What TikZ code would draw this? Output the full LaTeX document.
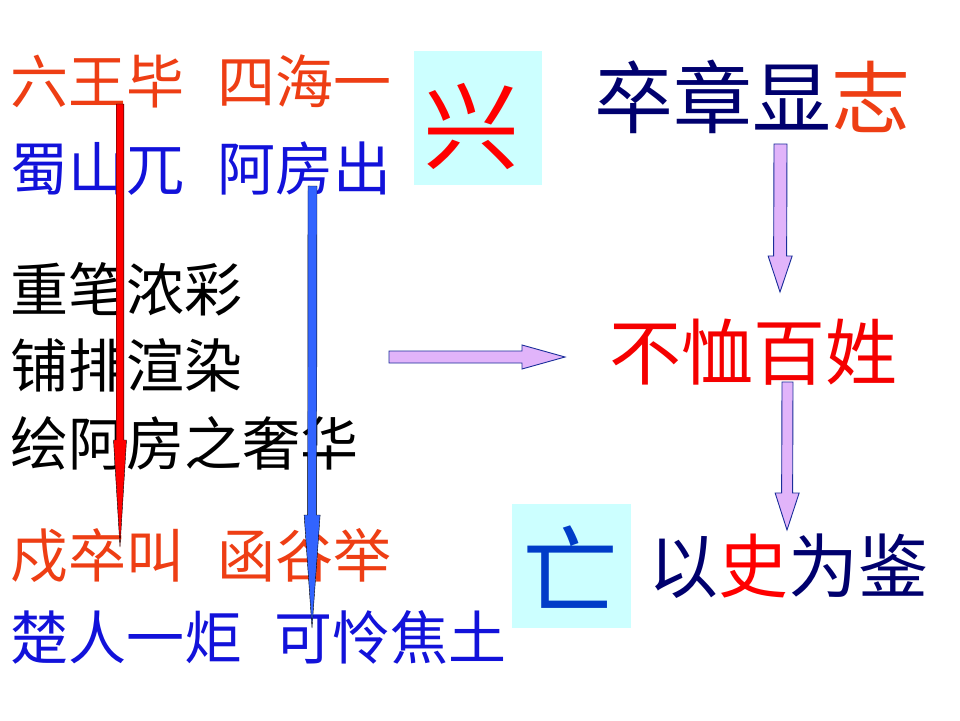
\documentclass[tikz,border=0pt]{standalone}
\usepackage{fontspec}
\setmainfont{Noto Sans CJK SC}
\usetikzlibrary{calc, positioning}

\definecolor{hongse}{RGB}{238,62,20}
\definecolor{chihong}{RGB}{245,0,0}
\definecolor{lanse}{RGB}{18,18,218}
\definecolor{shenlan}{RGB}{0,0,110}
\definecolor{wanglan}{RGB}{0,60,200}
\definecolor{qing}{RGB}{204,255,255}
\definecolor{zise}{RGB}{225,180,250}
\definecolor{biankuang}{RGB}{26,46,154}
\definecolor{lanjian}{RGB}{50,100,255}

\tikzstyle{line} = [inner sep=0pt, outer sep=0pt, anchor=base west, font=\fontsize{58}{60}\selectfont]
\tikzstyle{title} = [inner sep=0pt, outer sep=0pt, anchor=base]
\tikzstyle{cyanbox} = [rectangle, fill=qing, inner sep=0pt]
\tikzstyle{fat} = [fill=zise, draw=biankuang, line width=0.9pt, line join=miter]

% block arrow: [style] from, to, half shaft, half head, head length
\newcommand{\fatarrow}[6][fat]{%
  \path (#3) coordinate (fa-tip) ($(#3)!#6!(#2)$) coordinate (fa-neck);
  \draw[#1] ($(#2)!#4!90:(fa-tip)$) -- ($(fa-neck)!#4!-90:(#2)$) -- ($(fa-neck)!#5!-90:(#2)$)
    -- (fa-tip) -- ($(fa-neck)!#5!90:(#2)$) -- ($(fa-neck)!#4!90:(#2)$) -- ($(#2)!#4!-90:(fa-tip)$) -- cycle;}

\begin{document}
\begin{tikzpicture}[x=1pt, y=-1pt]
    \useasboundingbox[fill=white] (0,0) rectangle (960,720);

    % boxes
    \node (xingbox) [cyanbox, minimum width=128pt, minimum height=134pt] at (478,118) {};
    \node (wangbox) [cyanbox, minimum width=119pt, minimum height=124pt] at (571.5,566) {};
    \node (xing) [title, text=red, font=\fontsize{96}{98}\selectfont] at (471,162) {兴};
    \node (wang) [title, text=wanglan, font=\fontsize{96}{98}\selectfont] at (570,606) {亡};

    % left text
    \node (l1a) [line, text=hongse] at (10,103) {六王毕};
    \node (l1b) [line, text=hongse, base right=33pt of l1a] {四海一};
    \node (l2a) [line, text=lanse] at (10,190) {蜀山兀};
    \node (l2b) [line, text=lanse, base right=33pt of l2a] {阿房出};
    \node (l3) [line] at (10,311) {重笔浓彩};
    \node (l4) [line] at (10,387) {铺排渲染};
    \node (l5) [line] at (10,465) {绘阿房之奢华};
    \node (l6a) [line, text=hongse] at (10,577) {戍卒叫};
    \node (l6b) [line, text=hongse, base right=33pt of l6a] {函谷举};
    \node (l7a) [line, text=lanse] at (10,659) {楚人一炬};
    \node (l7b) [line, text=lanse, base right=32pt of l7a] {可怜焦土};

    % right text
    \node (zhi) [title, font=\fontsize{79}{81}\selectfont] at (752,127) {\color{shenlan}卒章显\color{hongse}志};
    \node (baixing) [title, text=chihong, font=\fontsize{72}{74}\selectfont] at (753,379) {不恤百姓};
    \node (jian) [title, font=\fontsize{70}{72}\selectfont] at (788,592) {\color{shenlan}以\color{red}史\color{shenlan}为鉴};

    % arrow ends
    \coordinate (hongtop) at (120,104);
    \coordinate (hongend) at (120,547);
    \coordinate (lantop) at (312.5,186);
    \coordinate (lanend) at (312,628);
    \coordinate (htail) at (389,357);
    \coordinate (hhead) at (565,357);
    \coordinate (v1tail) at (780.5,144);
    \coordinate (v1head) at (780,292);
    \coordinate (v2tail) at (787.5,382);
    \coordinate (v2head) at (787,530);

    \fatarrow[fill=red]{hongtop}{hongend}{3.8pt}{6.5pt}{107pt}
    \fatarrow[fill=lanjian]{lantop}{lanend}{4.5pt}{8pt}{113pt}
    \fatarrow{htail}{hhead}{6pt}{12pt}{43pt}
    \fatarrow{v1tail}{v1head}{6.5pt}{12pt}{36pt}
    \fatarrow{v2tail}{v2head}{5.5pt}{12pt}{37pt}

\end{tikzpicture}
\end{document}
